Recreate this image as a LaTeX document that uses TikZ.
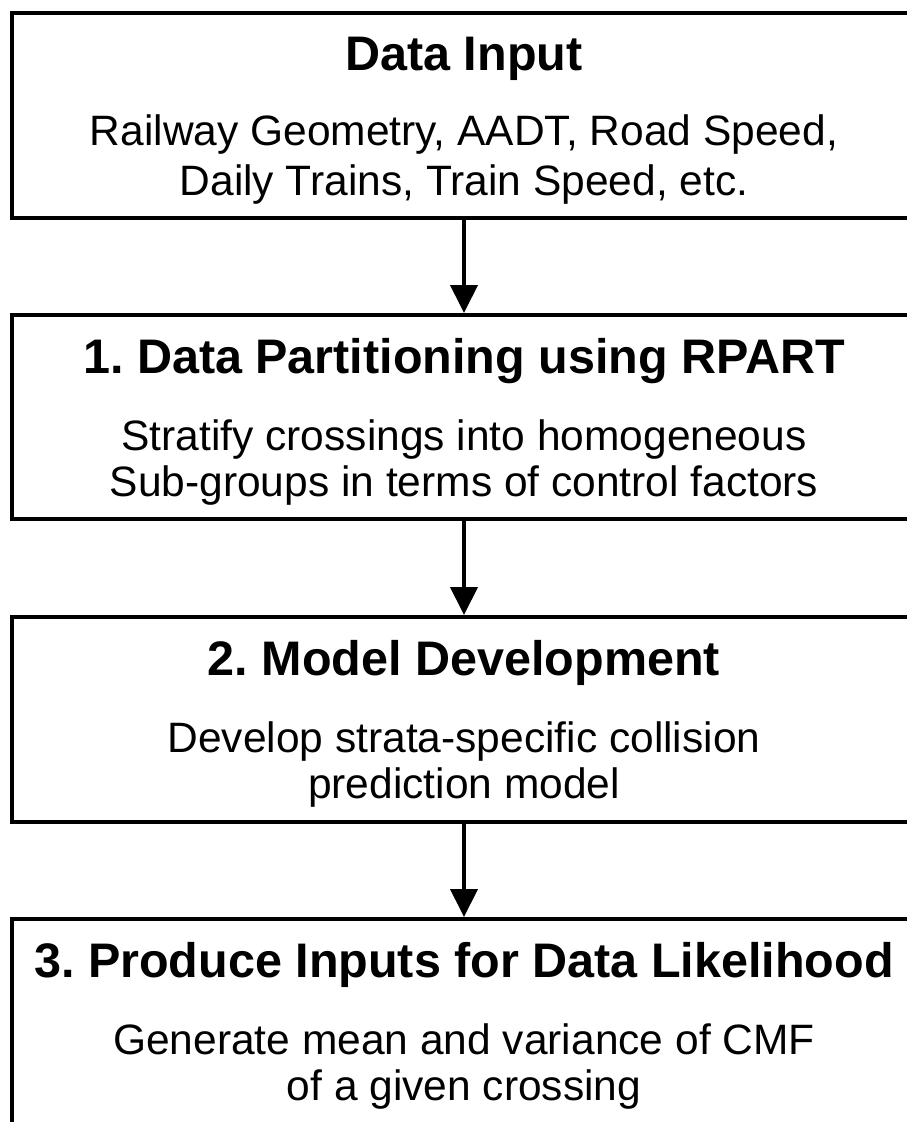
\documentclass[tikz,border=0pt]{standalone}
\usepackage{fontspec}
\setmainfont{Liberation Sans}
\usetikzlibrary{arrows.meta}
\tikzset{
  stagebox/.style={draw=black, line width=4pt, minimum width=904pt, inner sep=0pt},
  titletext/.style={anchor=base, inner sep=0pt, font=\fontsize{48.5}{54}\selectfont\bfseries},
  bodytext/.style={anchor=base, inner sep=0pt, font=\fontsize{42.5}{48}\selectfont},
  flowarrow/.style={line width=4pt, -{Triangle[width=27pt,length=28pt]}}
}
\begin{document}
\begin{tikzpicture}[x=1pt,y=-1pt]
\useasboundingbox (0,0) rectangle (907,1122);
\clip (0,0) rectangle (907,1122);
\node[stagebox, minimum height=205pt] (box1) at (464,115.5) {};
\node[stagebox, minimum height=204pt] (box2) at (464,417) {};
\node[stagebox, minimum height=205pt] (box3) at (464,719.5) {};
\node[stagebox, minimum height=240pt] (box4) at (464,1039) {};

\node[titletext] (t1) at (464,70) {Data Input};
\node[bodytext] (b1a) at (464,145) {Railway Geometry, AADT, Road Speed,};
\node[bodytext] (b1b) at (464,195) {Daily Trains, Train Speed, etc.};

\node[titletext] (t2) at (464,373) {1.\ Data Partitioning using RPART};
\node[bodytext] (b2a) at (464,450) {Stratify crossings into homogeneous};
\node[bodytext] (b2b) at (464,496) {Sub-groups in terms of control factors};

\node[titletext] (t3) at (464,675) {2.\ Model Development};
\node[bodytext] (b3a) at (464,752) {Develop strata-specific collision};
\node[bodytext] (b3b) at (464,798) {prediction model};

\node[titletext] (t4) at (464,977) {3.\ Produce Inputs for Data Likelihood};
\node[bodytext] (b4a) at (464,1054) {Generate mean and variance of CMF};
\node[bodytext] (b4b) at (464,1100) {of a given crossing};

\draw[flowarrow] (box1.south) -- (box2.north);
\draw[flowarrow] (box2.south) -- (box3.north);
\draw[flowarrow] (box3.south) -- (box4.north);
\end{tikzpicture}
\end{document}
